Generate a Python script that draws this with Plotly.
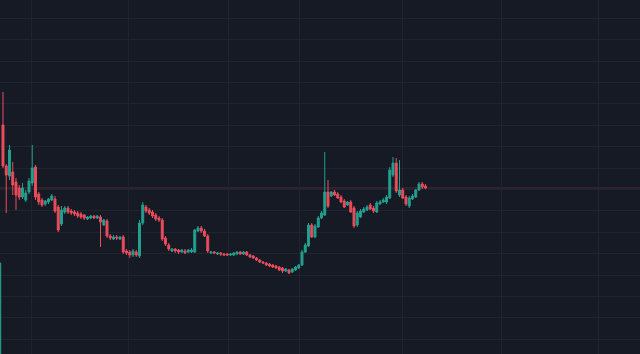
import plotly.graph_objects as go

# candle index (-1 is a partially visible candle at the left edge)
idx = list(range(-1, 131))

opens = [0.30,
 2.75, 2.34, 2.24, 2.28, 2.18, 2.12, 2.03, 2.00, 2.08, 2.17,
 2.33, 2.06, 2.00, 1.96, 1.98, 2.00, 2.01, 1.93, 1.76, 1.88,
 1.92, 1.89, 1.88, 1.87, 1.86, 1.85, 1.81, 1.82, 1.84, 1.82,
 1.83, 1.75, 1.79, 1.64, 1.61, 1.63, 1.61, 1.63, 1.49, 1.48,
 1.45, 1.48, 1.44, 1.77, 1.93, 1.90, 1.88, 1.85, 1.82, 1.80,
 1.62, 1.55, 1.49, 1.51, 1.50, 1.48, 1.49, 1.48, 1.48, 1.48,
 1.69, 1.72, 1.69, 1.64, 1.47, 1.48, 1.46, 1.47, 1.46, 1.46,
 1.45, 1.45, 1.46, 1.48, 1.46, 1.48, 1.45, 1.44, 1.42, 1.40,
 1.38, 1.37, 1.36, 1.35, 1.34, 1.33, 1.32, 1.29, 1.30, 1.28,
 1.30, 1.32, 1.35, 1.48, 1.54, 1.75, 1.63, 1.73, 1.82, 1.85,
 2.08, 2.04, 2.08, 2.06, 2.03, 1.99, 1.95, 1.98, 1.92, 1.75,
 1.83, 1.88, 1.90, 1.95, 1.92, 1.88, 1.96, 1.98, 1.98, 2.02,
 2.25, 2.37, 2.05, 2.10, 2.03, 1.94, 2.01, 2.03, 2.10, 2.16,
 2.14]
highs = [1.37,
 3.08, 2.36, 2.55, 2.38, 2.22, 2.15, 2.17, 2.10, 2.22, 2.55,
 2.35, 2.08, 2.02, 2.00, 2.02, 2.06, 2.04, 1.95, 1.94, 1.94,
 1.94, 1.91, 1.90, 1.89, 1.88, 1.86, 1.84, 1.85, 1.85, 1.85,
 1.85, 1.81, 1.81, 1.66, 1.65, 1.65, 1.64, 1.65, 1.51, 1.50,
 1.51, 1.50, 1.80, 1.98, 1.95, 1.92, 1.90, 1.87, 1.84, 1.82,
 1.64, 1.57, 1.52, 1.52, 1.51, 1.51, 1.51, 1.51, 1.52, 1.71,
 1.74, 1.74, 1.71, 1.66, 1.49, 1.49, 1.48, 1.48, 1.47, 1.47,
 1.47, 1.48, 1.49, 1.49, 1.49, 1.49, 1.46, 1.45, 1.43, 1.41,
 1.39, 1.38, 1.37, 1.36, 1.35, 1.34, 1.33, 1.32, 1.31, 1.32,
 1.34, 1.36, 1.50, 1.57, 1.77, 1.77, 1.76, 1.84, 1.89, 2.48,
 2.20, 2.09, 2.10, 2.08, 2.05, 2.01, 1.99, 2.00, 1.94, 1.89,
 1.91, 1.93, 1.95, 1.97, 1.94, 1.99, 2.00, 2.02, 2.05, 2.33,
 2.43, 2.42, 2.40, 2.12, 2.05, 2.04, 2.06, 2.11, 2.18, 2.18,
 2.16]
lows = [0.20,
 2.32, 1.87, 2.20, 2.05, 1.90, 2.00, 2.01, 1.98, 2.06, 2.14,
 2.00, 1.95, 1.93, 1.94, 1.96, 1.99, 1.87, 1.68, 1.74, 1.86,
 1.86, 1.85, 1.84, 1.82, 1.81, 1.80, 1.80, 1.81, 1.81, 1.81,
 1.53, 1.74, 1.62, 1.60, 1.60, 1.60, 1.60, 1.46, 1.45, 1.42,
 1.43, 1.43, 1.42, 1.75, 1.87, 1.85, 1.82, 1.79, 1.78, 1.59,
 1.54, 1.49, 1.48, 1.47, 1.46, 1.47, 1.46, 1.47, 1.47, 1.47,
 1.68, 1.67, 1.63, 1.47, 1.46, 1.46, 1.45, 1.44, 1.44, 1.44,
 1.44, 1.44, 1.45, 1.45, 1.45, 1.44, 1.42, 1.41, 1.39, 1.37,
 1.36, 1.34, 1.33, 1.32, 1.31, 1.29, 1.27, 1.28, 1.26, 1.27,
 1.29, 1.31, 1.34, 1.47, 1.53, 1.62, 1.62, 1.72, 1.81, 1.84,
 1.92, 2.03, 2.04, 2.01, 1.97, 1.92, 1.94, 1.87, 1.72, 1.73,
 1.82, 1.87, 1.89, 1.90, 1.87, 1.87, 1.95, 1.97, 1.96, 2.01,
 2.23, 2.07, 2.03, 2.01, 1.94, 1.92, 2.00, 2.02, 2.09, 2.11,
 2.11]
closes = [1.37,
 2.34, 2.25, 2.50, 2.15, 2.05, 2.03, 2.12, 2.07, 2.19, 2.32,
 2.03, 1.98, 1.95, 1.99, 2.01, 2.04, 1.89, 1.70, 1.90, 1.92,
 1.88, 1.87, 1.86, 1.84, 1.83, 1.82, 1.83, 1.84, 1.82, 1.84,
 1.78, 1.80, 1.64, 1.62, 1.63, 1.62, 1.63, 1.48, 1.47, 1.45,
 1.49, 1.45, 1.77, 1.95, 1.89, 1.87, 1.84, 1.81, 1.80, 1.61,
 1.56, 1.51, 1.51, 1.49, 1.48, 1.50, 1.47, 1.50, 1.50, 1.70,
 1.72, 1.69, 1.64, 1.49, 1.48, 1.47, 1.47, 1.46, 1.45, 1.45,
 1.46, 1.47, 1.48, 1.46, 1.48, 1.45, 1.43, 1.42, 1.40, 1.38,
 1.37, 1.35, 1.34, 1.33, 1.32, 1.30, 1.29, 1.31, 1.27, 1.31,
 1.33, 1.35, 1.48, 1.55, 1.75, 1.63, 1.74, 1.82, 1.87, 2.08,
 1.94, 2.08, 2.05, 2.02, 1.98, 1.93, 1.98, 1.88, 1.74, 1.87,
 1.89, 1.91, 1.93, 1.91, 1.89, 1.97, 1.98, 2.00, 2.03, 2.30,
 2.37, 2.09, 2.10, 2.02, 1.96, 2.02, 2.04, 2.10, 2.16, 2.13,
 2.12]

# time-grid positions (in candle index units)
vgrid = [8.62, 38.65, 69.42, 91.38, 122.77, 153.23, 183.08]

UP = "#22a08f"
DOWN = "#eb4d5c"
BG = "#161a25"
GRID = "#20242f"

fig = go.Figure()
fig.add_trace(go.Candlestick(
    x=idx, open=opens, high=highs, low=lows, close=closes,
    increasing=dict(line=dict(color=UP, width=1), fillcolor=UP),
    decreasing=dict(line=dict(color=DOWN, width=1), fillcolor=DOWN),
    whiskerwidth=0, hoverinfo="skip", showlegend=False,
))

fig.add_shape(type="line", xref="paper", x0=0, x1=1, yref="y",
              y0=closes[-1], y1=closes[-1],
              line=dict(color="rgba(235,77,92,0.3)", width=1), layer="below")

fig.update_layout(
    width=640, height=354,
    margin=dict(l=0, r=0, t=0, b=0),
    paper_bgcolor=BG, plot_bgcolor=BG,
    showlegend=False,
    boxgap=0.15,
    xaxis=dict(range=[-0.92, 196], tickvals=vgrid, showticklabels=False,
               showgrid=True, gridcolor=GRID, gridwidth=1, zeroline=False,
               showline=False, ticks="", rangeslider=dict(visible=False),
               fixedrange=True),
    yaxis=dict(range=[0.46, 4.00], tick0=0.607, dtick=0.214,
               showticklabels=False, showgrid=True, gridcolor=GRID,
               gridwidth=1, zeroline=False, showline=False, ticks="",
               fixedrange=True),
)

fig.write_html("out.html", config={"displayModeBar": False, "staticPlot": True})
